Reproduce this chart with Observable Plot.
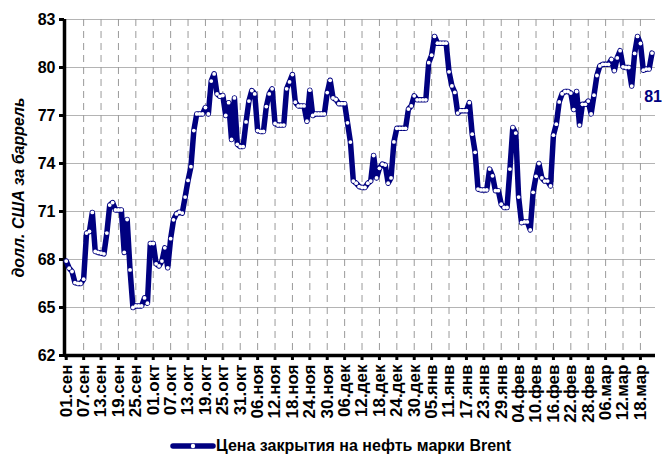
<!DOCTYPE html>
<html>
<head>
<meta charset="utf-8">
<script src="https://cdn.jsdelivr.net/npm/d3@7"></script>
<script src="https://cdn.jsdelivr.net/npm/@observablehq/plot@0.6"></script>
<style>
  body { margin: 0; background: white; }
  #wrap { position: relative; width: 662px; height: 461px; font-family: "Liberation Sans", Arial, sans-serif; }
  #legend { position: absolute; left: 170px; top: 437px; display: flex; align-items: center; font-weight: bold; font-size: 16px; color: #000; }
</style>
</head>
<body>
<div id="wrap">
  <div id="chart"></div>
  <div id="legend">
    <svg width="46" height="12"><line x1="3" y1="6" x2="43" y2="6" stroke="#000080" stroke-width="5.5" stroke-linecap="round"></line><circle cx="23" cy="6" r="2.2" fill="white"></circle></svg>
    <span>Цена закрытия на нефть марки Brent</span>
  </div>
</div>
<script>
// Brent closing price, daily from 01.09 (day 0)
const prices = [
  67.9, 67.46, 67.25, 66.56, 66.5, 66.5, 66.77, 69.65, 69.75, 70.94,
  68.5, 68.44, 68.4, 68.35, 69.65, 71.4, 71.56, 71.1, 71.1, 71.1,
  68.44, 70.5, 67.35, 65.0, 65.1, 65.1, 65.1, 65.6, 65.27, 69.0,
  69.0, 67.73, 67.6, 67.9, 68.73, 67.48, 69.3, 70.48, 70.85, 70.96,
  70.9, 71.9, 72.94, 73.8, 76.06, 77.1, 77.1, 77.1, 77.5, 77.1,
  79.15, 79.6, 78.35, 78.2, 78.25, 77.0, 77.8, 75.5, 78.1, 75.2,
  75.06, 75.06, 76.6, 77.9, 78.56, 78.35, 76.06, 76.0, 76.0, 77.56,
  78.35, 78.67, 76.5, 76.4, 76.4, 76.4, 78.67, 79.1, 79.56, 77.83,
  77.6, 77.6, 77.6, 76.64, 78.58, 77.0, 77.1, 77.1, 77.1, 77.1,
  78.43, 79.2, 78.1, 78.0, 77.74, 77.74, 77.74, 76.54, 75.34, 72.9,
  72.77, 72.56, 72.5, 72.5, 72.77, 72.9, 74.5, 73.1, 73.7, 73.96,
  73.9, 72.77, 73.1, 75.35, 76.2, 76.2, 76.2, 76.2, 77.4, 77.6,
  78.23, 77.98, 77.98, 77.98, 77.98, 80.3, 80.77, 81.94, 81.52, 81.52,
  81.52, 81.52, 79.73, 78.85, 78.44, 77.15, 77.3, 77.3, 77.3, 77.8,
  75.83, 74.7, 72.4, 72.35, 72.35, 72.35, 73.65, 73.23, 72.3, 72.3,
  71.46, 71.25, 71.25, 73.65, 76.25, 75.9, 71.9, 70.3, 70.35, 70.35,
  69.85, 72.2, 73.2, 74.0, 73.1, 72.9, 72.9, 72.6, 75.77, 76.46,
  77.85, 78.36, 78.5, 78.5, 78.4, 77.37, 78.5, 76.4, 77.7, 77.7,
  77.9, 77.1, 78.27, 79.5, 80.1, 80.2, 80.2, 80.2, 80.5, 79.8,
  80.6, 81.05, 80.04, 80.0, 80.0, 78.84, 80.88, 81.94, 81.5, 79.83,
  79.9, 79.9, 80.9
];
const tickLabels = [
  "01.сен","07.сен","13.сен","19.сен","25.сен","01.окт","07.окт","13.окт","19.окт","25.окт","31.окт",
  "06.ноя","12.ноя","18.ноя","24.ноя","30.ноя","06.дек","12.дек","18.дек","24.дек","30.дек",
  "05.янв","11.янв","17.янв","23.янв","29.янв","04.фев","10.фев","16.фев","22.фев","28.фев",
  "06.мар","12.мар","18.мар"
];
const tickStep = 6;
const yTicks = [62, 65, 68, 71, 74, 77, 80, 83];
const yLabel = "долл. США за баррель";
const navy = "#000080";

const data = prices.map((p, i) => ({day: i, price: p}));
const tickDays = tickLabels.map((_, i) => i * tickStep);
const last = data[data.length - 1];
const x0 = -0.6;

const chart = Plot.plot({
  width: 662,
  height: 432,
  marginLeft: 64,
  marginRight: 7,
  marginTop: 19,
  marginBottom: 77,
  x: {domain: [x0, 203.2], axis: null},
  y: {domain: [62, 83], axis: null},
  style: {fontFamily: "'Liberation Sans', Arial, sans-serif", background: "white", overflow: "visible"},
  marks: [
    Plot.ruleY(yTicks.filter(t => t > 62), {stroke: "#b4b4b4", strokeWidth: 1}),
    Plot.ruleX(tickDays.filter(d => d > 0), {stroke: "#9a9a9a", strokeWidth: 1, strokeDasharray: "7,5"}),
    Plot.axisY({ticks: yTicks, tickSize: 5, tickPadding: 4, strokeWidth: 3, fontSize: 16, fontWeight: "bold", label: null, color: "black"}),
    Plot.axisX({ticks: tickDays, tickFormat: d => tickLabels[d / tickStep], tickRotate: -90, tickSize: 5, tickPadding: 4, strokeWidth: 3, fontSize: 17, fontWeight: "bold", label: null, color: "black"}),
    Plot.text([yLabel], {frameAnchor: "left", textAnchor: "middle", rotate: -90, dx: -46, fontSize: 16, fontStyle: "italic", fontWeight: "bold", fill: "black"}),
    Plot.ruleX([x0], {stroke: "black", strokeWidth: 3.5}),
    Plot.ruleY([62], {stroke: "black", strokeWidth: 3.5}),
    Plot.line(data, {x: "day", y: "price", stroke: navy, strokeWidth: 5.5, strokeLinejoin: "round"}),
    Plot.dot(data, {x: "day", y: "price", r: 1.9, fill: "white", stroke: "none"}),
    Plot.text([last], {x: "day", y: "price", text: d => String(Math.round(d.price)), textAnchor: "middle", dx: 1, dy: 44, fill: navy, fontSize: 16, fontWeight: "bold"})
  ]
});
document.getElementById("chart").appendChild(chart);
</script>
</body>
</html>
